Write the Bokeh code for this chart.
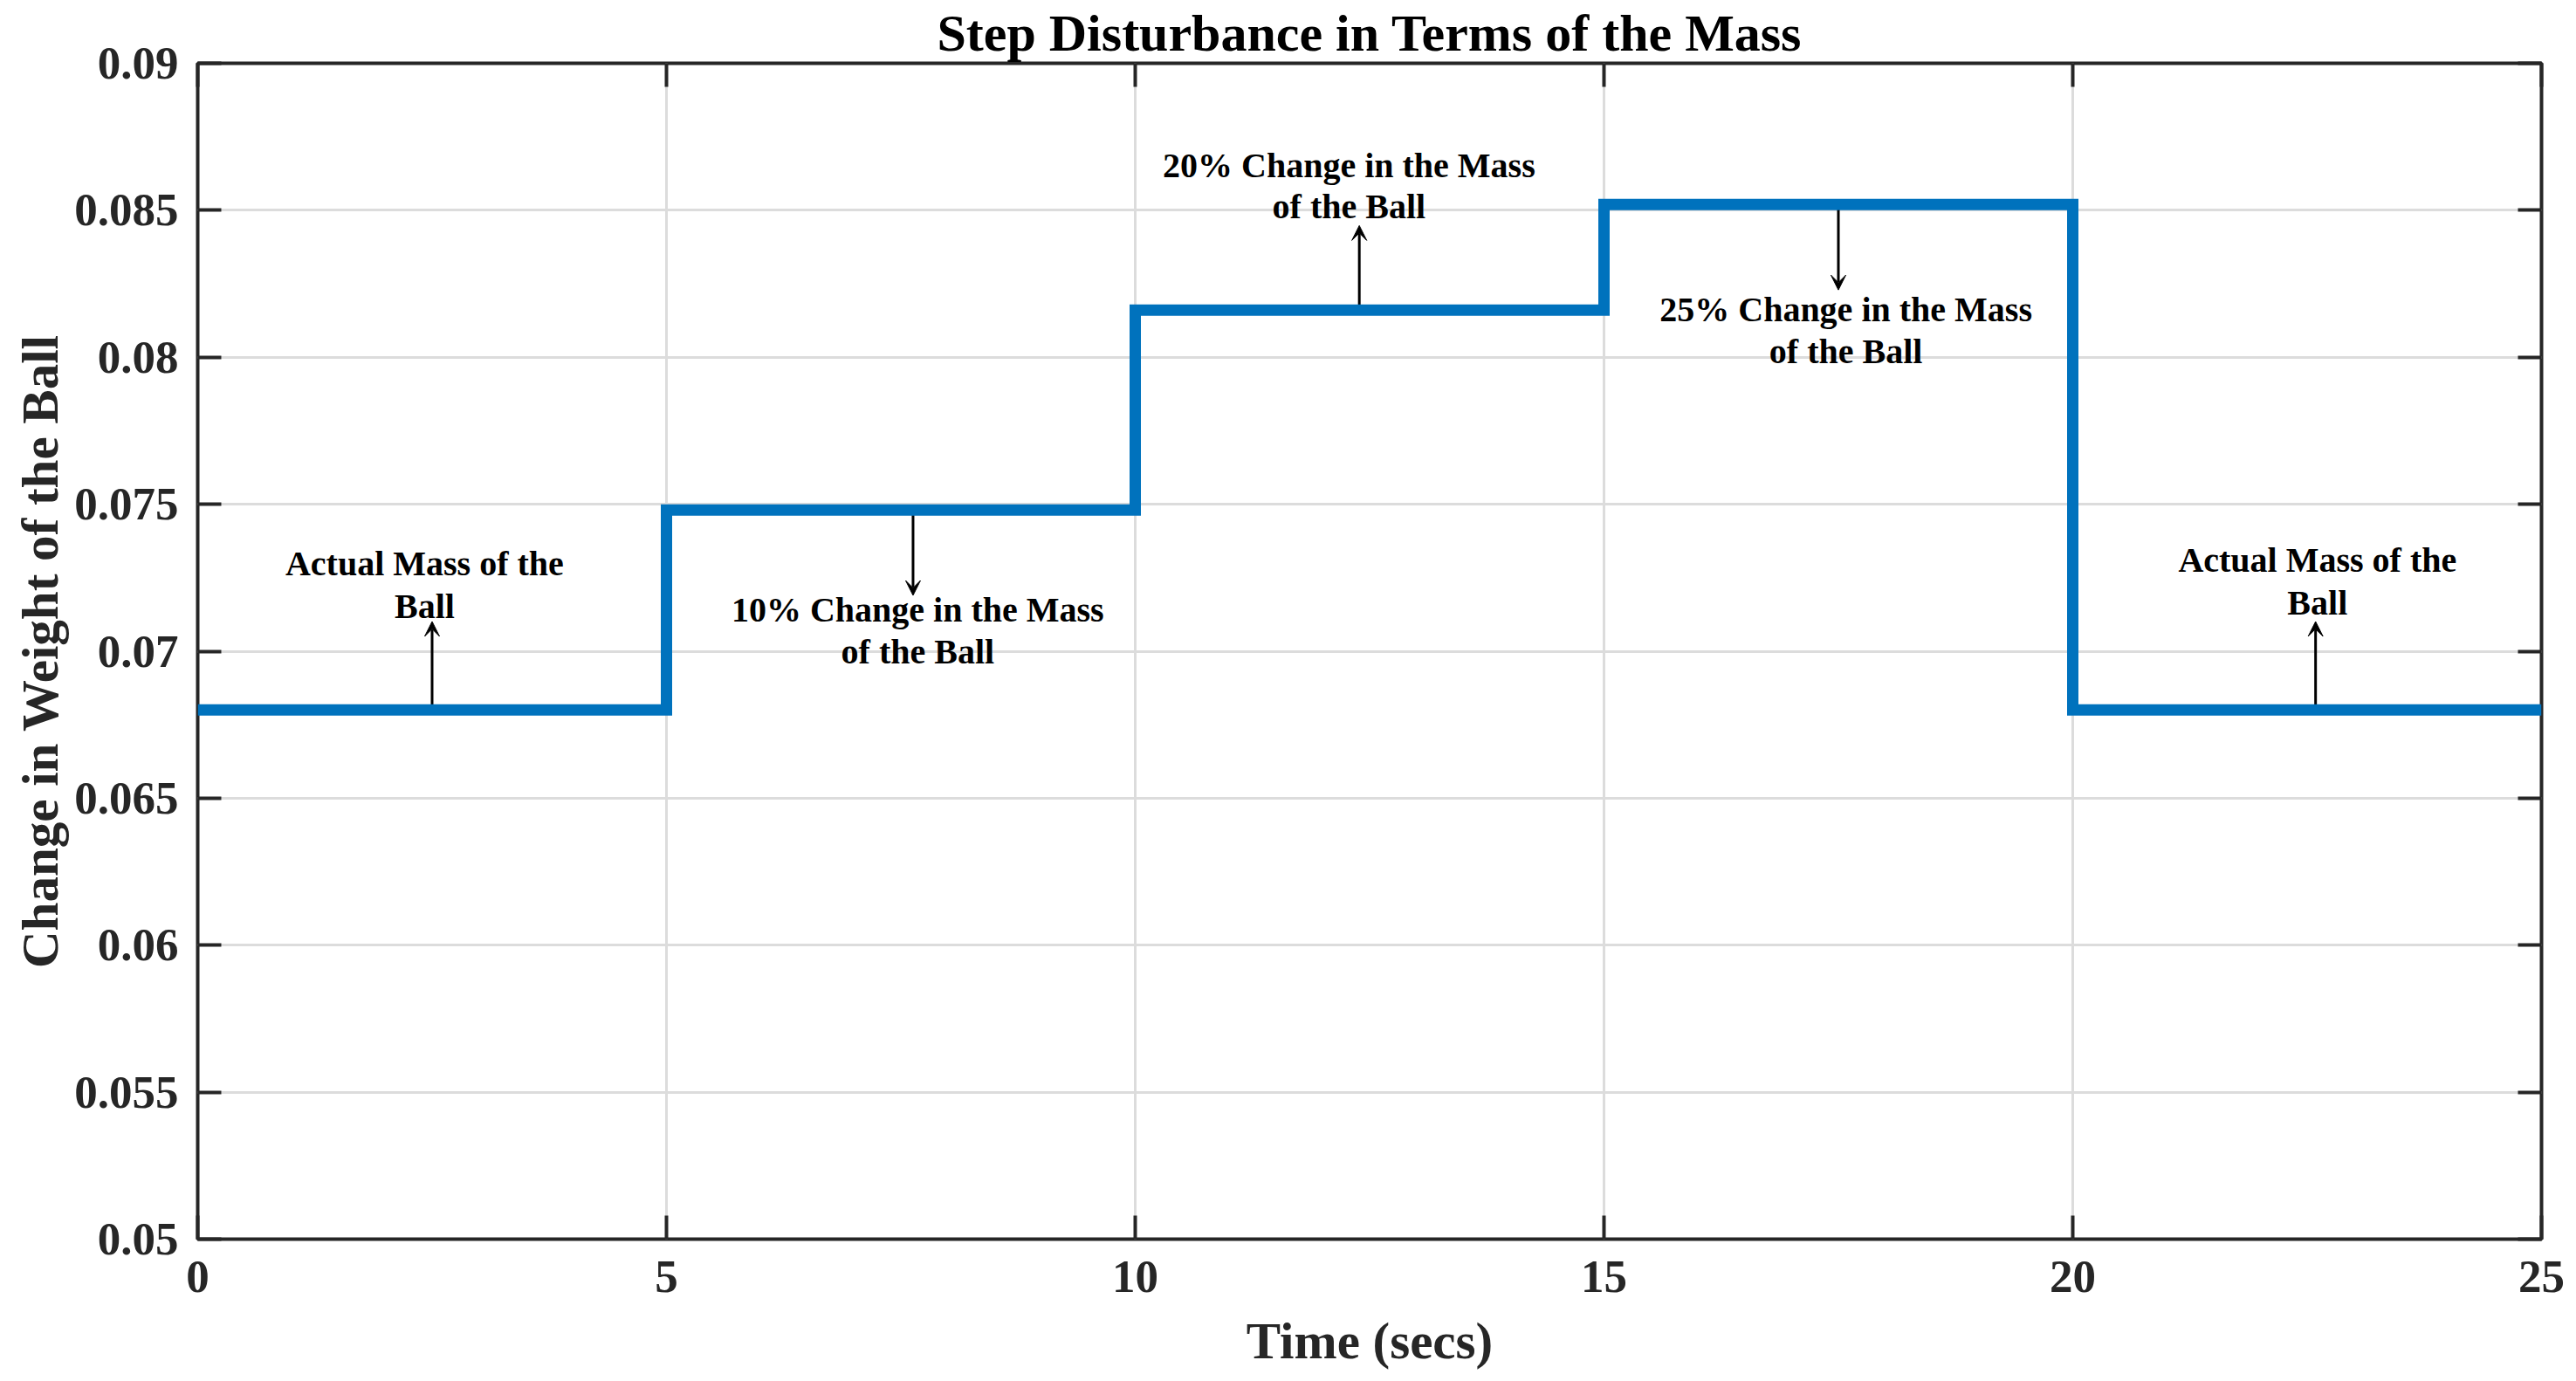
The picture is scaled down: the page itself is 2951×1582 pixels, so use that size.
from bokeh.plotting import figure
from bokeh.models import (Range1d, FixedTicker, LinearAxis, Arrow, VeeHead,
                          Label, CustomJSTickFormatter)
from bokeh.embed import file_html
from bokeh.resources import INLINE

# ---- data ----
time_edges = [0, 5, 10, 15, 20, 25]
weight_levels = [0.068, 0.0748, 0.0816, 0.0852, 0.068, 0.068]

x_ticks = [0, 5, 10, 15, 20, 25]
y_ticks = [0.05, 0.055, 0.06, 0.065, 0.07, 0.075, 0.08, 0.085, 0.09]
y_tick_labels = ["0.05", "0.055", "0.06", "0.065", "0.07", "0.075", "0.08", "0.085", "0.09"]

ann_line1 = ["Actual Mass of the", "10% Change in the Mass", "20% Change in the Mass",
             "25% Change in the Mass", "Actual Mass of the"]
ann_line2 = ["Ball", "of the Ball", "of the Ball", "of the Ball", "Ball"]
ann_text_x = [2.42, 7.68, 12.28, 17.58, 22.61]
ann_line1_y = [0.07297, 0.07141, 0.08653, 0.08163, 0.07309]
ann_line2_y = [0.07152, 0.07000, 0.08514, 0.08020, 0.07164]
arrow_x = [2.5, 7.63, 12.39, 17.5, 22.59]
arrow_from_y = [0.068, 0.0748, 0.0816, 0.0852, 0.068]
arrow_to_y = [0.07101, 0.0719, 0.08448, 0.08229, 0.07101]

FONT = "Liberation Serif"
DARK = "#262626"

p = figure(width=2943, height=1574, output_backend="svg", toolbar_location=None,
           x_range=Range1d(0, 25), y_range=Range1d(0.05, 0.09),
           min_border_left=226, min_border_right=32, min_border_top=72,
           min_border_bottom=155)
p.background_fill_color = "white"
p.border_fill_color = "white"
p.outline_line_color = DARK
p.outline_line_width = 4

p.title.text = "Step Disturbance in Terms of the Mass"
p.title.align = "center"
p.title.text_font = FONT
p.title.text_font_size = "60px"
p.title.text_font_style = "bold"
p.title.text_color = "black"
p.title.standoff = 4
p.title.offset = 0

for ax in (p.xaxis[0], p.yaxis[0]):
    ax.axis_line_color = None
    ax.major_tick_in = 27
    ax.major_tick_out = 0
    ax.minor_tick_line_color = None
    ax.major_tick_line_color = DARK
    ax.major_tick_line_width = 4
    ax.major_label_text_font = FONT
    ax.major_label_text_font_size = "53px"
    ax.major_label_text_font_style = "bold"
    ax.major_label_text_color = DARK
    ax.axis_label_text_font = FONT
    ax.axis_label_text_font_size = "59px"
    ax.axis_label_text_font_style = "bold"
    ax.axis_label_text_color = DARK

p.xaxis[0].ticker = FixedTicker(ticks=x_ticks)
p.yaxis[0].ticker = FixedTicker(ticks=y_ticks)
p.yaxis[0].major_label_overrides = {t: s for t, s in zip(y_ticks, y_tick_labels)}
p.xaxis[0].axis_label = "Time (secs)"
p.yaxis[0].axis_label = "Change in Weight of the Ball"
p.xaxis[0].major_label_standoff = 25
p.xaxis[0].axis_label_standoff = 20
p.yaxis[0].major_label_standoff = 22
p.yaxis[0].axis_label_standoff = 3

# box ticks on top and right
for ticks, side in ((x_ticks, "above"), (y_ticks, "right")):
    ax = LinearAxis(ticker=FixedTicker(ticks=ticks),
                    formatter=CustomJSTickFormatter(code="return ''"))
    ax.axis_line_color = None
    ax.major_tick_in = 27
    ax.major_tick_out = 0
    ax.minor_tick_line_color = None
    ax.major_tick_line_color = DARK
    ax.major_tick_line_width = 4
    ax.major_label_text_font_size = "0px"
    ax.major_label_standoff = 0
    p.add_layout(ax, side)

p.xgrid.grid_line_color = "#DCDCDC"
p.xgrid.grid_line_width = 3
p.ygrid.grid_line_color = "#DCDCDC"
p.ygrid.grid_line_width = 3

# arrows (drawn beneath the step line)
for xa, y0, y1 in zip(arrow_x, arrow_from_y, arrow_to_y):
    arr = Arrow(x_start=xa, y_start=y0, x_end=xa, y_end=y1,
                line_color="black", line_width=3, level="underlay",
                end=VeeHead(size=17, fill_color="black", line_color="black",
                            line_width=1))
    p.add_layout(arr)

p.step(x=time_edges, y=weight_levels, mode="after", line_width=13,
       line_color="#0072BD", line_join="miter")

for t1, t2, xt, y1, y2 in zip(ann_line1, ann_line2, ann_text_x, ann_line1_y, ann_line2_y):
    for txt, yy in ((t1, y1), (t2, y2)):
        p.add_layout(Label(x=xt, y=yy, text=txt, text_align="center",
                           text_baseline="alphabetic", text_font=FONT,
                           text_font_size="40px", text_font_style="bold",
                           text_color="black"))

open("out.html", "w").write(file_html(p, INLINE))
